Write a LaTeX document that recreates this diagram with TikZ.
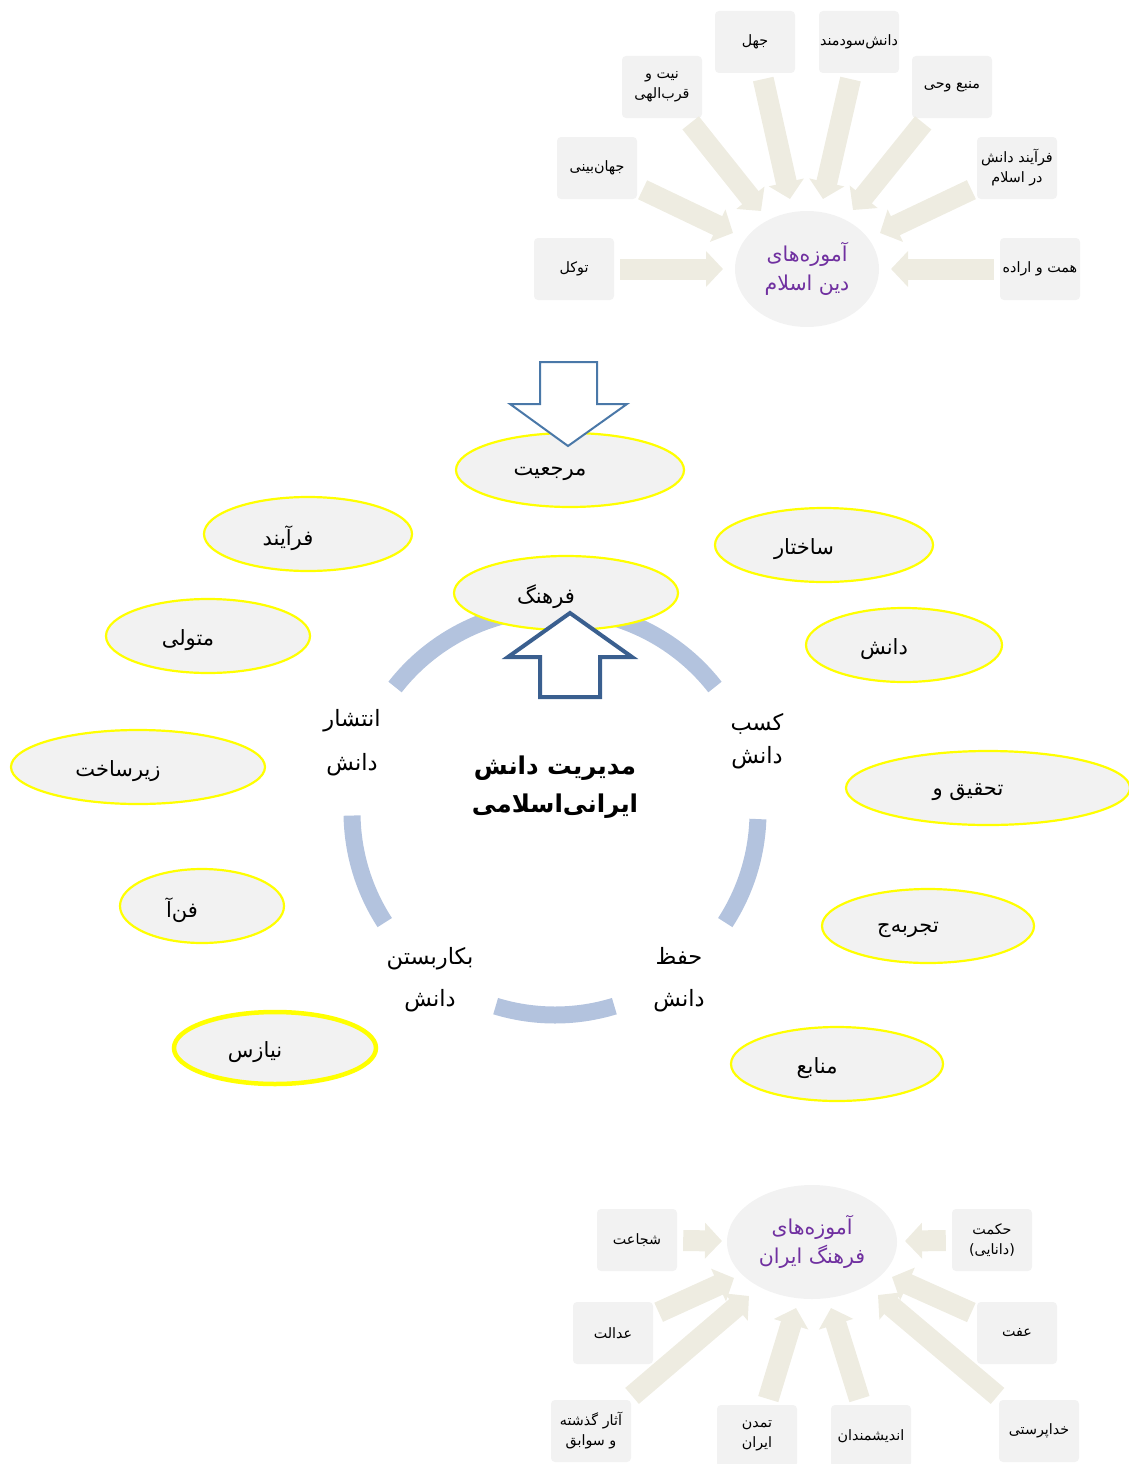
\documentclass[tikz,border=0pt]{standalone}
\usepackage{fontspec}
\usetikzlibrary{shapes.geometric,arrows.meta}
\TeXXeTstate=1
\newfontfamily\fa[Script=Arabic]{DejaVu Sans}
\newcommand{\fatx}[1]{\beginR #1\endR}
\newcommand{\ellt}[1]{\raisebox{-4pt}[\height][\depth]{\fatx{#1}}\hspace*{40pt}}
\definecolor{boxfill}{HTML}{F2F2F2}
\definecolor{arrowcol}{HTML}{EEECE1}
\definecolor{yel}{HTML}{FFFF00}
\definecolor{ringcol}{HTML}{B3C3DE}
\definecolor{purp}{HTML}{7030A0}
\definecolor{downblue}{HTML}{4A78A8}
\definecolor{upblue}{HTML}{3A5F8F}
\begin{document}
\begin{tikzpicture}[x=1pt,y=-1pt,
  box/.style={fill=boxfill, rounded corners=4pt, minimum width=80pt, minimum height=62pt,
    inner sep=1pt, align=center, font=\fa\fontsize{14.3}{20}\selectfont},
  ell/.style={ellipse, fill=boxfill, draw=yel, line width=2.2pt, inner sep=0pt,
    font=\fa\fontsize{21}{24}\selectfont},
  hub/.style={ellipse, fill=boxfill, inner sep=0pt, align=center, text=purp,
    font=\fa\fontsize{20.5}{29}\selectfont},
  barrow/.style={draw=arrowcol, line width=21pt, -{Triangle[width=35pt,length=17pt]}, shorten <=6pt},
  ring/.style={draw=ringcol, line width=17pt},
  cyc/.style={align=center, font=\fa\fontsize{22.5}{26}\selectfont},
]
\useasboundingbox (0,0) rectangle (1128,1464);

% ---------------- top: Islamic teachings ----------------
\node[hub, minimum width=144pt, minimum height=116pt] (islam) at (807,269)
  {\fatx{آموزه‌های}\\\fatx{دین اسلام}};
\node[box] (jahl) at (755,42) {\fatx{جهل}};
\node[box] (sud) at (859,42) {\fatx{دانش‌سودمند}};
\node[box] (niyyat) at (662,87) {\fatx{نیت و}\\\fatx{قرب‌الهی}};
\node[box] (manba) at (952,87) {\fatx{منبع وحی}};
\node[box] (jahan) at (597,168) {\fatx{جهان‌بینی}};
\node[box] (farayand) at (1017,168) {\fatx{فرآیند دانش}\\\fatx{در اسلام}};
\node[box] (tavakkol) at (574,269) {\fatx{توکل}};
\node[box] (hemmat) at (1040,269) {\fatx{همت و اراده}};

\coordinate (t1) at (723,269);
\coordinate (t2) at (891,269);
\coordinate (t3) at (733,233);
\coordinate (t4) at (761,211);
\coordinate (t5) at (790,199);
\coordinate (t6) at (823,199);
\coordinate (t7) at (853,210);
\coordinate (t8) at (880,233);
\draw[barrow] (tavakkol) -- (t1);
\draw[barrow] (hemmat) -- (t2);
\draw[barrow] (jahan) -- (t3);
\draw[barrow] (niyyat) -- (t4);
\draw[barrow] (jahl) -- (t5);
\draw[barrow] (sud) -- (t6);
\draw[barrow] (manba) -- (t7);
\draw[barrow] (farayand) -- (t8);

% ---------------- middle: knowledge management cycle ----------------
\draw[ring] (555,812) ++(-38:203) arc[start angle=-38, end angle=-142, radius=203];
\draw[ring] (555,812) ++(2:203) arc[start angle=2, end angle=33, radius=203];
\draw[ring] (555,812) ++(73:203) arc[start angle=73, end angle=107, radius=203];
\draw[ring] (555,812) ++(147:203) arc[start angle=147, end angle=179, radius=203];

\node[ell, minimum width=228pt, minimum height=74pt] (marjaiyat) at (570,470) {\ellt{مرجعیت}};
\node[ell, minimum width=208pt, minimum height=74pt] (farayand2) at (308,534) {\ellt{فرآیند}};
\node[ell, minimum width=218pt, minimum height=74pt] (sakhtar) at (824,545) {\ellt{ساختار}};
\node[ell, minimum width=224pt, minimum height=74pt] (farhang) at (566,593) {\ellt{فرهنگ}};
\node[ell, minimum width=204pt, minimum height=74pt] (motavalli) at (208,636) {\ellt{متولی}};
\node[ell, minimum width=196pt, minimum height=74pt] (danesh) at (904,645) {\ellt{دانش}};
\node[ell, minimum width=254pt, minimum height=74pt] (zirsakht) at (138,767) {\ellt{زیرساخت}};
\node[ell, minimum width=284pt, minimum height=74pt] (tahqiq) at (988,788) {\ellt{تحقیق و}};
\node[ell, minimum width=164pt, minimum height=74pt] (fanna) at (202,906) {\ellt{فن‌آ}};
\node[ell, minimum width=212pt, minimum height=74pt] (tajrobe) at (928,926) {\ellt{تجربه‌ج}};
\node[ell, line width=4.5pt, minimum width=202pt, minimum height=72pt] (niaz) at (275,1048) {\ellt{نیازس}};
\node[ell, minimum width=212pt, minimum height=74pt] (manabe) at (837,1064) {\ellt{منابع}};

% outline arrows
\draw[downblue, line width=2pt, fill=white, line join=miter]
  (540,362) -- (597,362) -- (597,404) -- (627,404) -- (568,446) -- (510,404) -- (540,404) -- cycle;
\draw[upblue, line width=4pt, fill=white, line join=miter]
  (540,697) -- (600,697) -- (600,657) -- (632,657) -- (570,613) -- (508,657) -- (540,657) -- cycle;

% cycle labels
\node[cyc] (kasb) at (757,741) {\fatx{کسب}\\[7pt]\fatx{دانش}};
\node[cyc] (enteshar) at (352,743) {\fatx{انتشار}\\[18pt]\fatx{دانش}};
\node[cyc] (bekar) at (430,980) {\fatx{بکاربستن}\\[16pt]\fatx{دانش}};
\node[cyc] (hefz) at (679,980) {\fatx{حفظ}\\[16pt]\fatx{دانش}};
\node[align=center, font=\fa\bfseries\fontsize{24.5}{38}\selectfont] (title) at (555,787)
  {\fatx{مدیریت دانش}\\\fatx{ایرانی‌اسلامی}};

% ---------------- bottom: Iranian culture ----------------
\node[hub, minimum width=170pt, minimum height=114pt] (iran) at (812,1242)
  {\fatx{آموزه‌های}\\\fatx{فرهنگ ایران}};
\node[box] (shojaat) at (637,1240) {\fatx{شجاعت}};
\node[box] (hekmat) at (992,1240) {\fatx{حکمت}\\\fatx{(دانایی)}};
\node[box] (edalat) at (613,1333) {\fatx{عدالت}};
\node[box] (effat) at (1017,1333) {\fatx{عفت}};
\node[box] (asar) at (591,1431) {\fatx{آثار گذشته}\\\fatx{و سوابق}};
\node[box] (tamaddon) at (757,1436) {\fatx{تمدن}\\\fatx{ایران}};
\node[box] (andish) at (871,1436) {\fatx{اندیشمندان}};
\node[box] (khoda) at (1039,1431) {\fatx{خداپرستی}};

\coordinate (b1) at (722,1241);
\coordinate (b2) at (905,1241);
\coordinate (b3) at (734,1278);
\coordinate (b4) at (892,1277);
\coordinate (b5) at (749,1296);
\coordinate (b6) at (796,1308);
\coordinate (b7) at (831,1308);
\coordinate (b8) at (878,1295);
\draw[barrow] (shojaat) -- (b1);
\draw[barrow] (hekmat) -- (b2);
\draw[barrow] (edalat) -- (b3);
\draw[barrow] (effat) -- (b4);
\draw[barrow] (asar) -- (b5);
\draw[barrow] (tamaddon) -- (b6);
\draw[barrow] (andish) -- (b7);
\draw[barrow] (khoda) -- (b8);
\end{tikzpicture}
\end{document}
